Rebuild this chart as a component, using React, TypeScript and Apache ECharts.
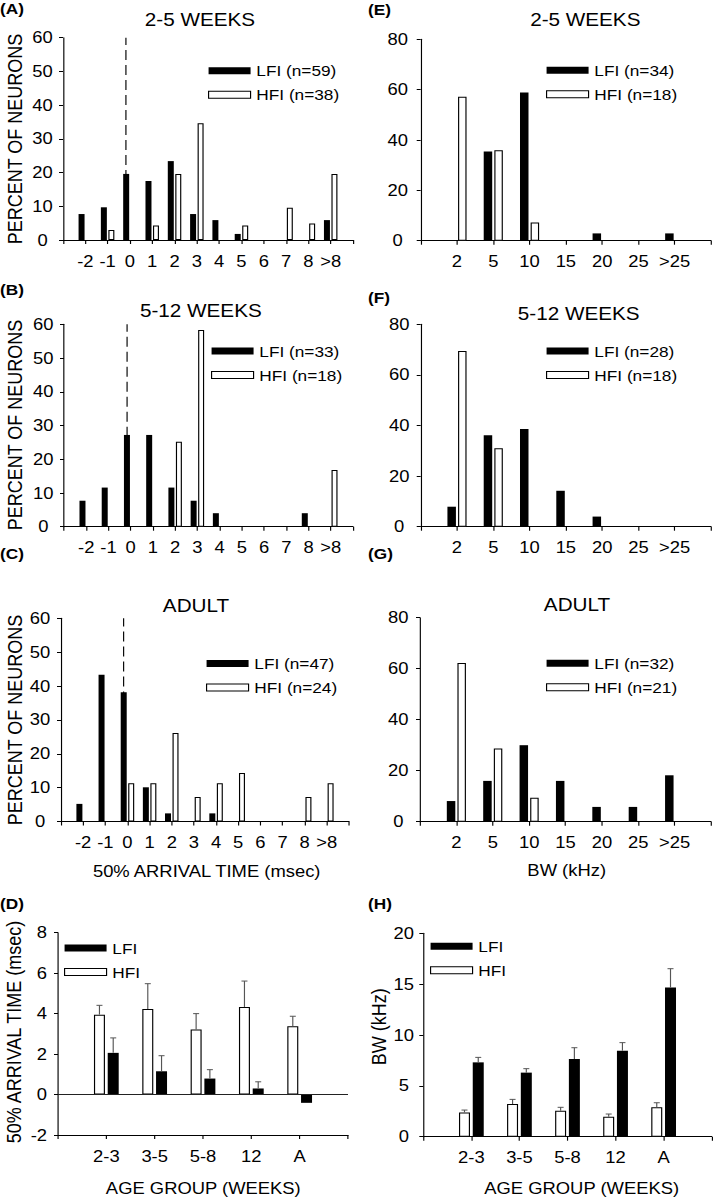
import React, { useEffect, useRef } from 'react';
import * as echarts from 'echarts';

// ---------- data ----------
const arrivalCats = ['-2', '-1', '0', '1', '2', '3', '4', '5', '6', '7', '8', '>8'];
const arrA_LFI = [7.7, 9.7, 19.6, 17.5, 23.4, 7.7, 5.9, 1.8, null, null, null, 5.9];
const arrA_HFI = [null, 3.0, null, 4.3, 19.6, 34.6, null, 4.3, null, 9.6, 4.9, 19.6];
const arrB_LFI = [7.7, 11.6, 27.2, 27.2, 11.6, 7.7, 4.0, null, null, null, 4.0, null];
const arrB_HFI = [null, null, null, null, 25.2, 58.3, null, null, null, null, null, 16.8];
const arrC_LFI = [5.2, 43.3, 38.2, 10.1, 2.4, null, 2.4, null, null, null, null, null];
const arrC_HFI = [null, null, 11.3, 11.3, 26.1, 7.2, 11.3, 14.3, null, null, 7.2, 11.3];

const bwCats = ['2', '5', '10', '15', '20', '25', '>25'];
const bwE_LFI = [null, 35.4, 58.9, null, 2.9, null, 2.9];
const bwE_HFI = [57.2, 35.9, 7.2, null, null, null, null];
const bwF_LFI = [7.9, 36.1, 38.6, 14.2, 4.0, null, null];
const bwF_HFI = [69.4, 31.0, null, null, null, null, null];
const bwG_LFI = [8.1, 16.0, 30.0, 16.0, 5.8, 5.8, 18.2];
const bwG_HFI = [62.2, 28.7, 9.4, null, null, null, null];

const ageCats = ['2-3', '3-5', '5-8', '12', 'A'];
const arrMean_HFI = [3.95, 4.23, 3.22, 4.33, 3.37];
const arrErr_HFI = [0.46, 1.25, 0.78, 1.28, 0.5];
const arrMean_LFI = [2.06, 1.15, 0.79, 0.3, -0.41];
const arrErr_LFI = [0.74, 0.77, 0.44, 0.33, 0];
const bwMean_HFI = [2.39, 3.21, 2.56, 1.97, 2.89];
const bwErr_HFI = [0.23, 0.46, 0.33, 0.26, 0.45];
const bwMean_LFI = [7.31, 6.3, 7.64, 8.46, 14.66];
const bwErr_LFI = [0.49, 0.39, 1.11, 0.79, 1.86];

// ---------- layout ----------
const S = 1.15; // horizontal stretch of the reference figure
const W = 714 / S;
const HGT = 1199;
const X = (x: number) => x / S;
const FONT = '"Liberation Sans", Arial, Helvetica, sans-serif';

const pad = (arr: any[]) => [null, ...arr, null];

function buildOption() {
  const grid: any[] = [];
  const xAxis: any[] = [];
  const yAxis: any[] = [];
  const series: any[] = [];
  const legend: any[] = [];
  const graphic: any[] = [];

  const addAxes = (i: number, g: any, cats: string[], min: number, max: number, interval: number, yMargin: number, yAlign: string) => {
    grid.push({ left: X(g.l), top: g.t, width: X(g.r - g.l), height: g.b - g.t, containLabel: false, outerBoundsMode: 'none' });
    xAxis.push({
      gridIndex: i, type: 'category', data: ['', ...cats, ''], boundaryGap: false,
      axisLine: { onZero: false, lineStyle: { color: '#000', width: 1 } },
      axisTick: { show: true, interval: 0, length: 4, lineStyle: { color: '#000', width: 1 } },
      axisLabel: { interval: 0, margin: 13, color: '#000', fontSize: 16, fontFamily: FONT },
      splitLine: { show: false },
    });
    yAxis.push({
      gridIndex: i, type: 'value', min, max, interval,
      axisLine: { show: true, lineStyle: { color: '#000', width: 1 } },
      axisTick: { show: true, length: X(4), lineStyle: { color: '#000', width: 1 } },
      axisLabel: { margin: X(yMargin), align: yAlign, color: '#000', fontSize: 16, fontFamily: FONT },
      splitLine: { show: false },
    });
  };

  const blackStyle = { color: '#000' };
  const whiteStyle = { color: '#fff', borderColor: '#000', borderWidth: 1 };

  const addLegend = (g: any, first: any, second: any) => {
    legend.push({
      left: X(g.legendX), top: g.legendTop, orient: 'vertical', padding: 0,
      itemGap: 8, itemWidth: X(42), itemHeight: 7, itemTextGap: X(10), icon: 'rect',
      selectedMode: false,
      textStyle: { fontSize: 15, fontFamily: FONT, color: '#000', lineHeight: 16 },
      data: [first, second],
    });
  };

  // histograms
  const hists = [
    { g: { l: 63, r: 353, t: 37.7, b: 240, legendX: 208, legendTop: 62.8, yMargin: 20.5 }, cats: arrivalCats, lfi: arrA_LFI, hfi: arrA_HFI, ln: 'LFI (n=59)', hn: 'HFI (n=38)', max: 60, step: 10, bw: 6, dash: true },
    { g: { l: 64, r: 353, t: 324.3, b: 526.7, legendX: 211, legendTop: 343, yMargin: 20.7 }, cats: arrivalCats, lfi: arrB_LFI, hfi: arrB_HFI, ln: 'LFI (n=33)', hn: 'HFI (n=18)', max: 60, step: 10, bw: 6, dash: true },
    { g: { l: 61, r: 349, t: 618.3, b: 821.5, legendX: 206, legendTop: 655.5, yMargin: 21 }, cats: arrivalCats, lfi: arrC_LFI, hfi: arrC_HFI, ln: 'LFI (n=47)', hn: 'HFI (n=24)', max: 60, step: 10, bw: 6, dash: true },
    { g: { l: 420.7, r: 711, t: 39.3, b: 240.7, legendX: 546, legendTop: 62.3, yMargin: 23 }, cats: bwCats, lfi: bwE_LFI, hfi: bwE_HFI, ln: 'LFI (n=34)', hn: 'HFI (n=18)', max: 80, step: 20, bw: 8.5, dash: false },
    { g: { l: 420.7, r: 711, t: 324.3, b: 526.7, legendX: 546, legendTop: 343, yMargin: 21.5 }, cats: bwCats, lfi: bwF_LFI, hfi: bwF_HFI, ln: 'LFI (n=28)', hn: 'HFI (n=18)', max: 80, step: 20, bw: 8.5, dash: false },
    { g: { l: 420, r: 711, t: 617.7, b: 821.7, legendX: 546, legendTop: 655.3, yMargin: 21.7 }, cats: bwCats, lfi: bwG_LFI, hfi: bwG_HFI, ln: 'LFI (n=32)', hn: 'HFI (n=21)', max: 80, step: 20, bw: 8.5, dash: false },
  ];

  hists.forEach((h, i) => {
    addAxes(i, h.g, h.cats, 0, h.max, h.step, h.g.yMargin, 'center');
    const zeroIdx = h.cats.indexOf('0') + 1;
    series.push({
      type: 'bar', name: h.ln, xAxisIndex: i, yAxisIndex: i, data: pad(h.lfi),
      barWidth: X(h.bw), barGap: '25%', itemStyle: blackStyle, silent: true,
      markLine: h.dash ? {
        silent: true, symbol: ['none', 'none'], label: { show: false },
        lineStyle: { color: '#000', type: [10, 5], width: 1 },
        data: [{ xAxis: zeroIdx }],
      } : undefined,
    });
    series.push({
      type: 'bar', name: h.hn, xAxisIndex: i, yAxisIndex: i, data: pad(h.hfi),
      barWidth: X(h.bw), barGap: '25%', itemStyle: whiteStyle, silent: true,
    });
    addLegend(h.g, { name: h.ln, itemStyle: blackStyle }, { name: h.hn, itemStyle: whiteStyle });
  });

  // age group panels
  const ages = [
    { g: { l: 58, r: 348, t: 932.7, b: 1135, legendX: 64, legendTop: 940 }, min: -2, max: 8, step: 2, yMargin: 11, align: 'right', hm: arrMean_HFI, he: arrErr_HFI, lm: arrMean_LFI, le: arrErr_LFI, zero: true },
    { g: { l: 423.3, r: 711.7, t: 933.3, b: 1136.7, legendX: 430, legendTop: 938.3 }, min: 0, max: 20, step: 5, yMargin: 19.5, align: 'center', hm: bwMean_HFI, he: bwErr_HFI, lm: bwMean_LFI, le: bwErr_LFI, zero: false },
  ];
  const BW = X(11);
  const GAP = BW * 0.25;
  ages.forEach((a, j) => {
    const i = hists.length + j;
    addAxes(i, a.g, ageCats, a.min, a.max, a.step, a.yMargin, a.align);
    series.push({
      type: 'bar', name: 'HFI', xAxisIndex: i, yAxisIndex: i, data: pad(a.hm),
      barWidth: BW, barGap: '25%', itemStyle: whiteStyle, silent: true,
      markLine: a.zero ? {
        silent: true, symbol: ['none', 'none'], label: { show: false },
        lineStyle: { color: '#222', type: 'solid', width: 1 },
        data: [{ yAxis: 0 }],
      } : undefined,
    });
    series.push({
      type: 'bar', name: 'LFI', xAxisIndex: i, yAxisIndex: i, data: pad(a.lm),
      barWidth: BW, barGap: '25%', itemStyle: blackStyle, silent: true,
    });
    const errSeries = (means: number[], errs: number[], off: number) => ({
      type: 'custom', xAxisIndex: i, yAxisIndex: i, silent: true, z: 5,
      encode: { x: 0, y: 1 },
      data: means.map((m, k) => [k + 1, m, errs[k]]),
      renderItem: (params: any, api: any) => {
        const idx = api.value(0);
        const v = api.value(1);
        const e = api.value(2);
        if (!e) return { type: 'group', children: [] };
        const base = api.coord([idx, v]);
        const top = api.coord([idx, v + e]);
        const x = base[0] + off;
        const st = { stroke: '#555', lineWidth: 1 };
        return {
          type: 'group',
          children: [
            { type: 'line', shape: { x1: x, y1: base[1], x2: x, y2: top[1] }, style: st },
            { type: 'line', shape: { x1: x - X(3), y1: top[1], x2: x + X(3), y2: top[1] }, style: st },
          ],
        };
      },
    });
    series.push(errSeries(a.hm, a.he, -(BW + GAP) / 2));
    series.push(errSeries(a.lm, a.le, (BW + GAP) / 2));
    addLegend(a.g, { name: 'LFI', itemStyle: blackStyle }, { name: 'HFI', itemStyle: whiteStyle });
  });

  // texts
  const txt = (text: string, x: number, y: number, size: number, opts: any = {}) => ({
    type: 'text', x: X(x), y, rotation: opts.rot || 0, silent: true,
    style: {
      text, fill: '#000', fontSize: size, fontFamily: FONT, fontWeight: opts.bold ? 'bold' : 'normal',
      textAlign: opts.align || 'center', textVerticalAlign: 'middle',
    },
  });
  graphic.push(txt('(A)', 0, 8, 15, { bold: true, align: 'left' }));
  graphic.push(txt('(B)', 0, 289, 15, { bold: true, align: 'left' }));
  graphic.push(txt('(C)', 0, 553, 15, { bold: true, align: 'left' }));
  graphic.push(txt('(D)', 0, 903, 15, { bold: true, align: 'left' }));
  graphic.push(txt('(E)', 368, 9, 15, { bold: true, align: 'left' }));
  graphic.push(txt('(F)', 368, 297.5, 15, { bold: true, align: 'left' }));
  graphic.push(txt('(G)', 368, 553, 15, { bold: true, align: 'left' }));
  graphic.push(txt('(H)', 368, 903, 15, { bold: true, align: 'left' }));

  graphic.push(txt('2-5 WEEKS', 200, 19.7, 18));
  graphic.push(txt('5-12 WEEKS', 200.8, 311, 18));
  graphic.push(txt('ADULT', 196, 606, 18));
  graphic.push(txt('2-5 WEEKS', 585.3, 19.7, 18));
  graphic.push(txt('5-12 WEEKS', 578.7, 313.3, 18));
  graphic.push(txt('ADULT', 577, 604.3, 18));

  const R = Math.PI / 2;
  graphic.push(txt('PERCENT OF NEURONS', 15, 139, 18, { rot: R }));
  graphic.push(txt('PERCENT OF NEURONS', 15, 425, 18, { rot: R }));
  graphic.push(txt('PERCENT OF NEURONS', 15, 720, 18, { rot: R }));
  graphic.push(txt('50% ARRIVAL TIME (msec)', 14, 1032, 18, { rot: R }));
  graphic.push(txt('BW (kHz)', 378.3, 1026.7, 18, { rot: R }));

  graphic.push(txt('50% ARRIVAL TIME (msec)', 206.7, 871.7, 16));
  graphic.push(txt('BW (kHz)', 566.7, 870.7, 16));
  graphic.push(txt('AGE GROUP (WEEKS)', 203.3, 1188, 16));
  graphic.push(txt('AGE GROUP (WEEKS)', 581.7, 1188, 16));

  return {
    animation: false,
    backgroundColor: '#fff',
    textStyle: { fontFamily: FONT },
    grid, xAxis, yAxis, series, legend, graphic,
  };
}

export default function App() {
  const ref = useRef<HTMLDivElement>(null);
  useEffect(() => {
    if (!ref.current) return;
    const chart = echarts.init(ref.current, undefined, { renderer: 'svg' });
    chart.setOption(buildOption() as any);
    return () => chart.dispose();
  }, []);
  return (
    <div style={{ position: 'absolute', left: 0, top: 0, width: 714, height: HGT, overflow: 'hidden', background: '#fff' }}>
      <div
        ref={ref}
        style={{ width: W, height: HGT, transform: `scaleX(${S})`, transformOrigin: '0 0' }}
      />
    </div>
  );
}
